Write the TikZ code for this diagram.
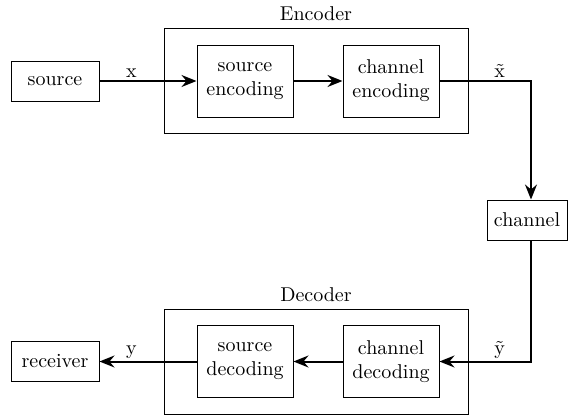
\documentclass[tikz,border=0pt]{standalone}
\usetikzlibrary{arrows.meta}
\begin{document}
\begin{tikzpicture}[x=0.5pt,y=-0.5pt,
  blk/.style={draw, line width=0.5pt, inner sep=0pt, align=center, font=\normalsize},
  small/.style={blk, minimum width=44pt, minimum height=20pt},
  inner/.style={blk, minimum width=48pt, minimum height=36pt},
  outer/.style={draw, line width=0.5pt, minimum width=152pt, minimum height=52.5pt, inner sep=0pt},
  conn/.style={line width=1pt, -{Stealth[length=7.5pt,width=6pt,inset=2.5pt]}},
  lbl/.style={above, inner sep=1.5pt}]
\useasboundingbox (0,0) rectangle (569,418);
% encoder
\node[outer] (enc) at (316,80.5) {};
\node[above, inner sep=3pt] (enclbl) at (enc.north) {Encoder};
\node[small] (src) at (55,81) {source};
\node[inner] (senc) at (245,81) {source\\encoding};
\node[inner] (cenc) at (391,81) {channel\\encoding};
% channel
\node[blk, minimum width=40pt, minimum height=20pt] (chan) at (527,220) {channel};
% decoder
\node[outer] (dec) at (316,361.5) {};
\node[above, inner sep=3pt] (declbl) at (dec.north) {Decoder};
\node[small] (rcv) at (55,361.5) {receiver};
\node[inner] (sdec) at (245,361.5) {source\\decoding};
\node[inner] (cdec) at (391,361.5) {channel\\decoding};
\coordinate (c1) at (531,81);
\coordinate (c2) at (531,361.5);
% connectors
\draw[conn] (src.east) -- (senc.west);
\path (src.east) -- (src.east -| enc.west) node[midway, lbl] {x};
\draw[conn] (senc.east) -- (cenc.west);
\draw[conn] (cenc.east) -- (c1) -- (c1 |- chan.north);
\path (cenc.east -| enc.east) -- (c1) node[midway, lbl] {\~x};
\draw[conn] (chan.south -| c2) -- (c2) -- (cdec.east);
\path (cdec.east -| dec.east) -- (c2) node[midway, lbl] {\~y};
\draw[conn] (cdec.west) -- (sdec.east);
\draw[conn] (sdec.west) -- (rcv.east);
\path (rcv.east) -- (rcv.east -| dec.west) node[midway, lbl] {y};
\end{tikzpicture}
\end{document}
